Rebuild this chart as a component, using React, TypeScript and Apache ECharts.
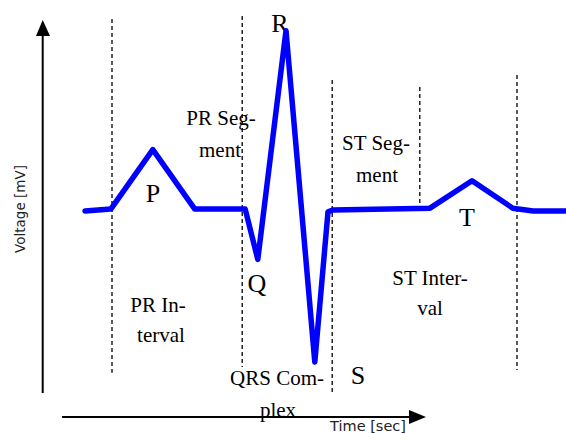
import React, { useEffect, useRef } from "react";
import * as echarts from "echarts";

// ECG trace (time in seconds, voltage in mV)
const timeSec = [0, 0.043, 0.113, 0.183, 0.267, 0.288, 0.335, 0.383, 0.405, 0.413, 0.575, 0.645, 0.713, 0.747, 0.8];
const voltageMv = [-0.005, 0.005, 0.33, 0.005, 0.005, -0.27, 0.98, -0.83, -0.01, 0, 0.01, 0.16, 0.01, -0.005, -0.005];

// dashed boundary markers
const markerTimes = [0.045, 0.262, 0.412, 0.558, 0.72];
const markerTop = [1.044, 1.06, 0.71, 0.672, 0.738];
const markerBottom = [-0.89, -0.858, -1.0, -0.016, -0.874];

// wave letters
const waveNames = ["P", "Q", "R", "S", "T"];
// annotations (lines of text)
const annotations = [
  ["PR Seg-", "ment"],
  ["ST Seg-", "ment"],
  ["PR In-", "terval"],
  ["QRS Com-", "plex"],
  ["ST Inter-", "val"],
];

const SERIF = "'Liberation Serif', 'Times New Roman', serif";
const SANS = "'DejaVu Sans', sans-serif";

export default function App() {
  const ref = useRef<HTMLDivElement>(null);
  useEffect(() => {
    document.body.style.margin = "0";
    if (!ref.current) return;
    const chart = echarts.init(ref.current, undefined, { renderer: "svg" });

    const waveLabelPos = [
      [153, 193],
      [257, 283],
      [280, 23],
      [358, 375],
      [467, 217],
    ];
    const annPos = [
      [[221, 118], [220, 150]],
      [[376, 143], [377, 175]],
      [[158, 305], [161, 335]],
      [[277, 378], [278, 410]],
      [[430, 278], [430, 308]],
    ];

    const graphics: any[] = [];
    waveNames.forEach((n, i) => {
      graphics.push({
        type: "text",
        x: waveLabelPos[i][0],
        y: waveLabelPos[i][1],
        style: { text: n, font: `26px ${SERIF}`, fill: "#000", align: "center", verticalAlign: "middle" },
      });
    });
    annotations.forEach((lines, i) => {
      lines.forEach((t, j) => {
        graphics.push({
          type: "text",
          x: annPos[i][j][0],
          y: annPos[i][j][1],
          style: { text: t, font: `21px ${SERIF}`, fill: "#000", align: "center", verticalAlign: "middle" },
        });
      });
    });
    // axes arrows
    graphics.push(
      { type: "line", shape: { x1: 42.7, y1: 393, x2: 42.7, y2: 30 }, style: { stroke: "#000", lineWidth: 2 } },
      { type: "polygon", shape: { points: [[42.7, 20], [36, 36], [50, 36]] }, style: { fill: "#000" } },
      { type: "line", shape: { x1: 62, y1: 417, x2: 412, y2: 417 }, style: { stroke: "#000", lineWidth: 2 } },
      { type: "polygon", shape: { points: [[426, 417], [409, 410], [409, 424]] }, style: { fill: "#000" } },
      {
        type: "text",
        x: 20,
        y: 209,
        rotation: Math.PI / 2,
        style: { text: "Voltage [mV]", font: `13.5px ${SANS}`, fill: "#222", align: "center", verticalAlign: "middle" },
      },
      {
        type: "text",
        x: 368,
        y: 426,
        style: { text: "Time [sec]", font: `14.5px ${SANS}`, fill: "#222", align: "center", verticalAlign: "middle" },
      }
    );

    const markerSeries = markerTimes.map((t, i) => ({
      type: "line",
      data: [
        [t, markerTop[i]],
        [t, markerBottom[i]],
      ],
      symbol: "none",
      clip: false,
      silent: true,
      lineStyle: { color: "#000", width: 1.3, type: [4, 3] },
      z: 1,
    }));

    chart.setOption({
      animation: false,
      grid: { left: 85, top: 27, width: 480, height: 366 },
      xAxis: { type: "value", min: 0, max: 0.8, show: false },
      yAxis: { type: "value", min: -1, max: 1, show: false },
      series: [
        ...markerSeries,
        {
          type: "line",
          data: timeSec.map((t, i) => [t, voltageMv[i]]),
          symbol: "none",
          clip: false,
          lineStyle: { color: "#0000ff", width: 5.5, join: "round", cap: "round" },
          z: 3,
        },
      ],
      graphic: graphics,
    });
    return () => chart.dispose();
  }, []);
  return <div ref={ref} style={{ width: 566, height: 434 }} />;
}
